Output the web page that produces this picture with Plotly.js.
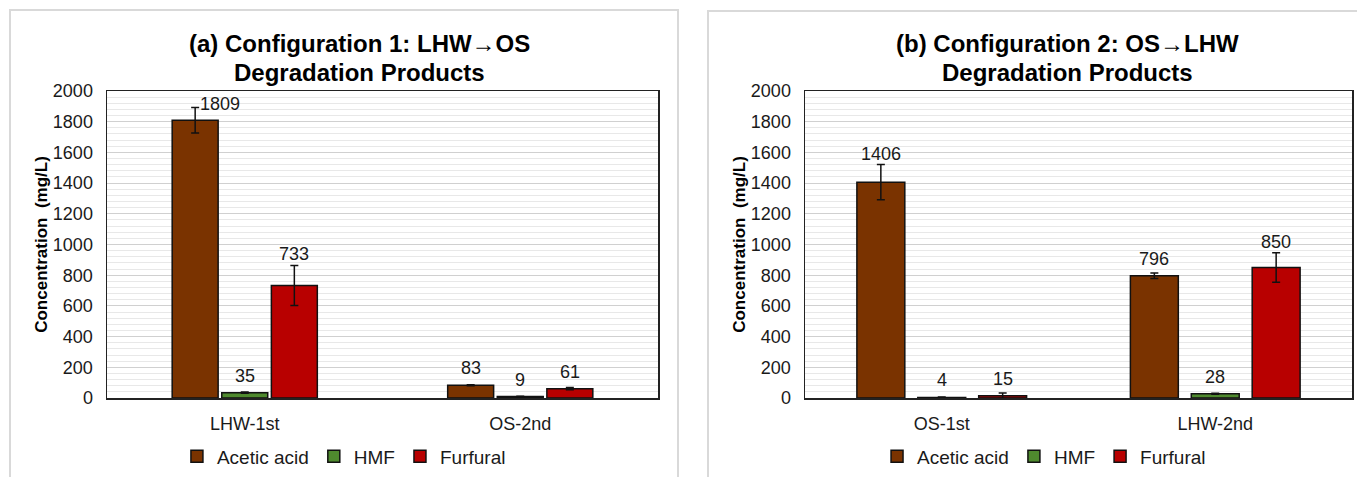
<!DOCTYPE html>
<html>
<head>
<meta charset="utf-8">
<script src="https://cdn.plot.ly/plotly-3.0.1.min.js"></script>
<style>
  html, body { margin: 0; padding: 0; background: #fff; }
  body { width: 1357px; height: 477px; position: relative; overflow: hidden; }
  .chart { position: absolute; top: 0; height: 477px; }
  #chartA { left: 0; width: 690px; }
  #chartB { left: 700px; width: 657px; }
  .frame { position: absolute; border: 2px solid #D9D9D9; pointer-events: none; }
  #frameA { left: 9px; top: 9px; width: 666px; height: 480px; }
  #frameB { left: 707px; top: 10px; width: 700px; height: 480px; }
</style>
</head>
<body>
<div id="chartA" class="chart"></div>
<div id="chartB" class="chart"></div>
<div id="frameA" class="frame"></div>
<div id="frameB" class="frame"></div>
<script>
// Configuration 1: LHW -> OS
const categoriesA = ["LHW-1st", "OS-2nd"];
const aceticA = [1809, 83];
const aceticErrA = [83, 3];
const hmfA = [35, 9];
const hmfErrA = [4, 2];
const furfuralA = [733, 61];
const furfuralErrA = [131, 8];

// Configuration 2: OS -> LHW
const categoriesB = ["OS-1st", "LHW-2nd"];
const aceticB = [1406, 796];
const aceticErrB = [115, 18];
const hmfB = [4, 28];
const hmfErrB = [2, 3];
const furfuralB = [15, 850];
const furfuralErrB = [18, 96];

const seriesNames = ["Acetic acid", "HMF", "Furfural"];
const seriesColors = ["#7A3300", "#4F8A2E", "#B80000"];

const FONT = "Liberation Sans, Arial, Helvetica, sans-serif";
const TEXT = "#1a1a1a";
const Y_MAX = 2000;

function buildChart(divId, cfg) {
  const values = [cfg.acetic, cfg.hmf, cfg.furfural];
  const errors = [cfg.aceticErr, cfg.hmfErr, cfg.furfuralErr];

  const traces = values.map((v, i) => ({
    type: "bar",
    name: seriesNames[i],
    x: cfg.categories,
    y: v,
    marker: { color: seriesColors[i], line: { color: "#111", width: 1.5 } },
    error_y: { type: "data", array: errors[i], visible: true,
               color: "#111", thickness: 1.5, width: 4 },
    hoverinfo: "skip"
  }));

  const plotH = cfg.height - cfg.margin.t - cfg.margin.b;
  const pxPerUnit = plotH / Y_MAX;
  const slot = (1 - cfg.bargap) / 3;

  // value labels above each bar (lifted over tall error bars)
  const annotations = [];
  values.forEach((v, i) => {
    v.forEach((val, c) => {
      const errPx = errors[i][c] * pxPerUnit;
      let yshift = errPx > 6 ? errPx + 11 : 17;
      let xshift = 0;
      if ((val * pxPerUnit) + yshift + 9 > plotH) {
        yshift = errPx + 4;
        xshift = 25;
      }
      annotations.push({
        xref: "x", yref: "y",
        x: c + (i - 1) * slot, y: val,
        text: String(val),
        showarrow: false,
        xanchor: "center", yanchor: "middle",
        xshift: xshift, yshift: yshift,
        font: { family: FONT, size: 18, color: TEXT }
      });
    });
  });

  // two-line chart heading
  cfg.titleLines.forEach((line, k) => {
    const yPx = 44 + k * 28;
    annotations.push({
      xref: "paper", yref: "paper",
      x: cfg.titleX, y: (cfg.height - cfg.margin.b - yPx) / plotH,
      text: line, showarrow: false,
      xanchor: "center", yanchor: "middle",
      font: { family: FONT, size: 24, color: "#000", weight: "bold" }
    });
  });

  const layout = {
    width: cfg.width, height: cfg.height,
    margin: Object.assign({ autoexpand: false }, cfg.margin),
    paper_bgcolor: "rgba(0,0,0,0)",
    plot_bgcolor: "#fff",
    barmode: "group",
    bargap: cfg.bargap,
    bargroupgap: cfg.bargroupgap,
    font: { family: FONT, color: TEXT, size: 18 },
    xaxis: {
      type: "category",
      showline: true, linecolor: "#222", linewidth: 1.5, mirror: true,
      ticks: "", showgrid: false,
      tickfont: { family: FONT, size: 18, color: TEXT },
      ticklabelstandoff: 9
    },
    yaxis: {
      range: [0, Y_MAX],
      dtick: 200,
      showline: true, linecolor: "#222", linewidth: 1.5, mirror: true,
      ticks: "",
      showgrid: true, gridcolor: "#D0D0D0", gridwidth: 1,
      minor: { dtick: 40, showgrid: true, gridcolor: "#E8E8E8", gridwidth: 1, ticks: "" },
      zeroline: false,
      tickfont: { family: FONT, size: 18, color: TEXT },
      ticklabelstandoff: 9,
      title: {
        text: "Concentration  (mg/L)",
        font: { family: FONT, size: 17, color: "#000", weight: "bold" },
        standoff: 1
      }
    },
    legend: {
      orientation: "h",
      x: cfg.legendX, xanchor: "center",
      y: -0.19, yanchor: "middle",
      font: { family: FONT, size: 19, color: TEXT },
      itemwidth: 30,
      traceorder: "normal"
    },
    annotations: annotations,
    showlegend: true
  };

  Plotly.newPlot(divId, traces, layout, { staticPlot: true, displayModeBar: false });
}

buildChart("chartA", {
  categories: categoriesA,
  acetic: aceticA, aceticErr: aceticErrA,
  hmf: hmfA, hmfErr: hmfErrA,
  furfural: furfuralA, furfuralErr: furfuralErrA,
  titleLines: ["(a) Configuration 1: LHW→OS", "Degradation Products"],
  titleX: 0.459,
  legendX: 0.43,
  width: 690, height: 477,
  margin: { l: 107, r: 32, t: 91, b: 79 },
  bargap: 0.46, bargroupgap: 0.073
});

buildChart("chartB", {
  categories: categoriesB,
  acetic: aceticB, aceticErr: aceticErrB,
  hmf: hmfB, hmfErr: hmfErrB,
  furfural: furfuralB, furfuralErr: furfuralErrB,
  titleLines: ["(b) Configuration 2: OS→LHW", "Degradation Products"],
  titleX: 0.479,
  legendX: 0.437,
  width: 657, height: 477,
  margin: { l: 105, r: 5, t: 91, b: 79 },
  bargap: 0.332, bargroupgap: 0.213
});
</script>
</body>
</html>
